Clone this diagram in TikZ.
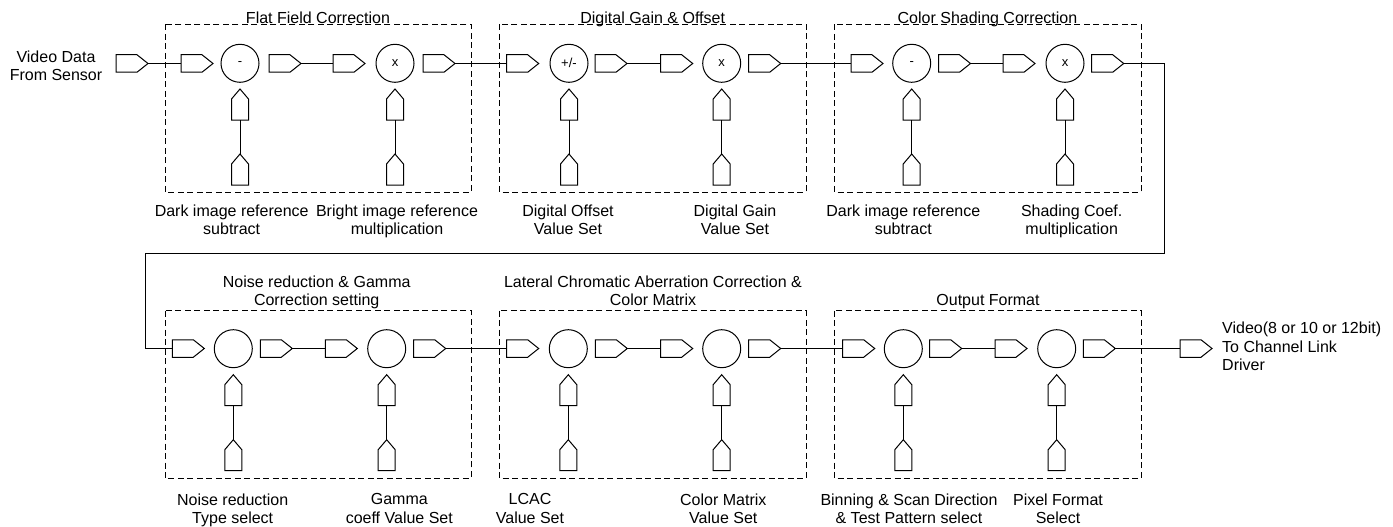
\documentclass[tikz,border=0pt]{standalone}
\usepackage{fontspec}
\setmainfont{Liberation Sans}
\begin{document}
\begin{tikzpicture}[x=1pt,y=-1pt,line width=1pt,
  hport/.style={rectangle, minimum width=31, minimum height=16.5, inner sep=0pt, anchor=west,
    append after command={\pgfextra{\draw[line width=1pt] (\tikzlastnode.north west) -- ([xshift=-11pt]\tikzlastnode.north east) -- (\tikzlastnode.east) -- ([xshift=-11pt]\tikzlastnode.south east) -- (\tikzlastnode.south west) -- cycle;}}},
  vport/.style={rectangle, minimum width=16, minimum height=30, inner sep=0pt, anchor=south,
    append after command={\pgfextra{\draw[line width=1pt] (\tikzlastnode.south west) -- ([yshift=-10pt]\tikzlastnode.north west) -- (\tikzlastnode.north) -- ([yshift=-10pt]\tikzlastnode.north east) -- (\tikzlastnode.south east) -- cycle;}}},
  op/.style={circle, draw, minimum size=38, inner sep=0pt, font=\fontsize{13}{15}\selectfont},
  dbox/.style={dash pattern=on 6pt off 3.5pt, line width=0.9pt},
  lbl/.style={align=center, inner sep=0pt, anchor=north, font=\fontsize{16}{18.5}\selectfont},
  wire/.style={line width=1pt}
]
\useasboundingbox (0,0) rectangle (1393,527);

% ---------- dashed group boxes ----------
\draw[dbox] (165,24.3) rectangle (471,192);
\draw[dbox] (499.3,24.3) rectangle (806,192);
\draw[dbox] (834.3,24.3) rectangle (1141,192);
\draw[dbox] (165,310.7) rectangle (471,478.3);
\draw[dbox] (499.3,310.7) rectangle (806,478.3);
\draw[dbox] (834.3,310.7) rectangle (1141,478.3);

% ---------- titles ----------
\node[lbl] (t1) at (318,11.7) {Flat Field Correction};
\node[lbl] (t2) at (652.7,11.7) {Digital Gain \& Offset};
\node[lbl] (t3) at (987.5,11.7) {Color Shading Correction};
\node[lbl] (t4) at (316.7,275) {Noise reduction \& Gamma\\Correction setting};
\node[lbl] (t5) at (653,275) {Lateral Chromatic Aberration Correction \&\\Color Matrix};
\node[lbl] (t6) at (988,294) {Output Format};

% ---------- row 1 ----------
\node[hport] (pin) at (116,63.5) {};
\node[hport] (p1a) at (181,63.5) {};
\node[op] (c1a) at (240,63.3) {-};
\node[hport] (p1b) at (269,63.5) {};
\node[hport] (p1c) at (333,63.5) {};
\node[op] (c1b) at (395,63.3) {x};
\node[hport] (p1d) at (423,63.5) {};
\node[hport] (p2a) at (506.7,63.5) {};
\node[op] (c2a) at (569,63.3) {+/-};
\node[hport] (p2b) at (595,63.5) {};
\node[hport] (p2c) at (660.7,63.5) {};
\node[op] (c2b) at (721.7,63.3) {x};
\node[hport] (p2d) at (748.7,63.5) {};
\node[hport] (p3a) at (851,63.5) {};
\node[op] (c3a) at (911.7,63.3) {-};
\node[hport] (p3b) at (938.5,63.5) {};
\node[hport] (p3c) at (1003,63.5) {};
\node[op] (c3b) at (1065,63.3) {x};
\node[hport] (p3d) at (1091.7,63.5) {};

% vertical ports row 1
\foreach \n/\x in {1a/240,1b/395,2a/569,2b/721.7,3a/911.7,3b/1065}{
  \node[vport] (u\n) at (\x,120) {};
  \node[vport] (l\n) at (\x,185) {};
  \draw[wire] (l\n.north) -- (u\n.south);
}

% ---------- row 2 ----------
\node[hport] (p4a) at (172.3,348.5) {};
\node[op] (c4a) at (233.3,348.7) {};
\node[hport] (p4b) at (260.3,348.5) {};
\node[hport] (p4c) at (325.3,348.5) {};
\node[op] (c4b) at (386.7,348.7) {};
\node[hport] (p4d) at (413.7,348.5) {};
\node[hport] (p5a) at (506.7,348.5) {};
\node[op] (c5a) at (568.3,348.7) {};
\node[hport] (p5b) at (595.3,348.5) {};
\node[hport] (p5c) at (660.7,348.5) {};
\node[op] (c5b) at (721.7,348.7) {};
\node[hport] (p5d) at (748.7,348.5) {};
\node[hport] (p6a) at (842.7,348.5) {};
\node[op] (c6a) at (903.3,348.7) {};
\node[hport] (p6b) at (929.7,348.5) {};
\node[hport] (p6c) at (995,348.5) {};
\node[op] (c6b) at (1056.7,348.7) {};
\node[hport] (p6d) at (1083.3,348.5) {};
\node[hport] (pout) at (1180,348.5) {};

\foreach \n/\x in {4a/233.3,4b/386.7,5a/568.3,5b/721.7,6a/903.3,6b/1056.7}{
  \node[vport] (u\n) at (\x,405.7) {};
  \node[vport] (l\n) at (\x,470.7) {};
  \draw[wire] (l\n.north) -- (u\n.south);
}

% ---------- horizontal wires ----------
\draw[wire] (pin.east) -- (p1a.west);
\draw[wire] (p1b.east) -- (p1c.west);
\draw[wire] (p1d.east) -- (p2a.west);
\draw[wire] (p2b.east) -- (p2c.west);
\draw[wire] (p2d.east) -- (p3a.west);
\draw[wire] (p3b.east) -- (p3c.west);
\coordinate (turnR) at (1164.3,253);
\coordinate (turnL) at (145.7,253);
\draw[wire] (p3d.east) -| (turnR) -- (turnL) |- (p4a.west);
\draw[wire] (p4b.east) -- (p4c.west);
\draw[wire] (p4d.east) -- (p5a.west);
\draw[wire] (p5b.east) -- (p5c.west);
\draw[wire] (p5d.east) -- (p6a.west);
\draw[wire] (p6b.east) -- (p6c.west);
\draw[wire] (p6d.east) -- (pout.west);

% ---------- labels ----------
\node[lbl] (lin) at (56,50) {Video Data\\From Sensor};
\node[lbl, align=left, anchor=north west] (lout) at (1221.7,321.7) {Video(8 or 10 or 12bit)\\To Channel Link\\Driver};

\node[lbl] (b1a) at (231.7,204) {Dark image reference\\subtract};
\node[lbl] (b1b) at (397,204) {Bright image reference\\multiplication};
\node[lbl] (b2a) at (568,204) {Digital Offset\\Value Set};
\node[lbl] (b2b) at (735,204) {Digital Gain\\Value Set};
\node[lbl] (b3a) at (903.3,204) {Dark image reference\\subtract};
\node[lbl] (b3b) at (1071.7,204) {Shading Coef.\\multiplication};

\node[lbl] (b4a) at (232.7,493.3) {Noise reduction\\Type select};
\node[lbl] (b4b) at (399.3,493.3) {Gamma\\coeff Value Set};
\node[lbl] (b5a) at (530,493.3) {LCAC\\Value Set};
\node[lbl] (b5b) at (723.3,493.3) {Color Matrix\\Value Set};
\node[lbl] (b6a) at (909,493.3) {Binning \& Scan Direction\\\& Test Pattern select};
\node[lbl] (b6b) at (1058,493.3) {Pixel Format\\Select};
\end{tikzpicture}
\end{document}
